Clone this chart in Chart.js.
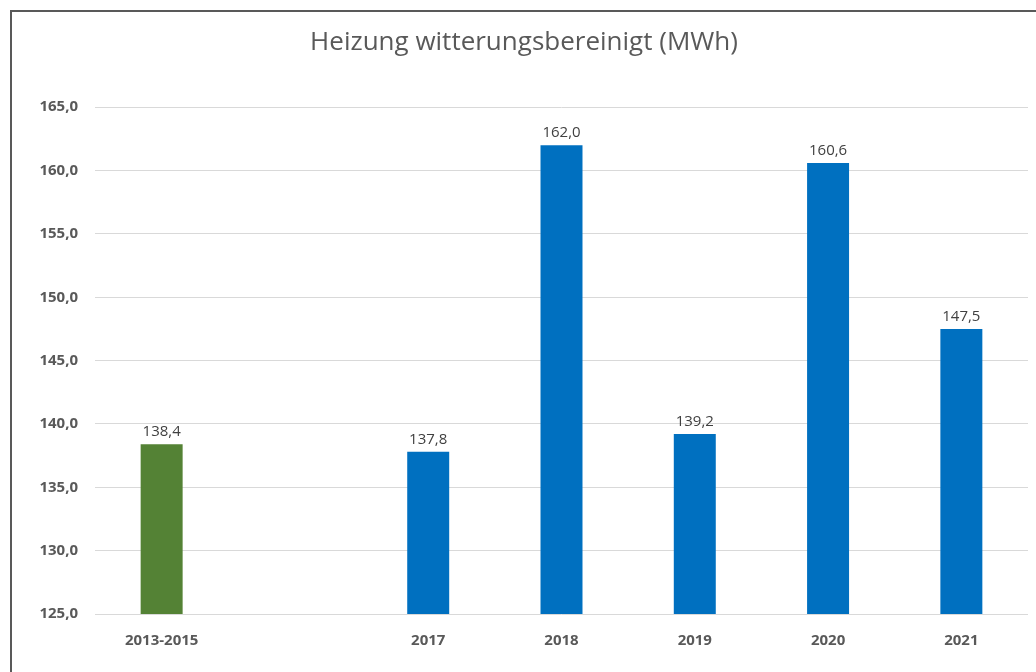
<html>
    <head>
        <meta charset="utf-8">
        <title>Heizung witterungsbereinigt</title>
        <style>
            body { margin: 0; background: #fff; overflow: hidden; }
            #wrap { position: relative; width: 1036px; height: 672px; overflow: hidden; }
            #frame { position: absolute; left: 10px; top: 10px; width: 1100px; height: 800px; border: 2px solid #595959; }
            #chart { position: absolute; left: 0; top: 0; }
        </style>
    </head>
    <body>
        <div id="wrap">
            <div id="frame"></div>
            <canvas id="chart" width="1036" height="672"></canvas>
        </div>
        <script src="https://cdn.jsdelivr.net/npm/chart.js"></script>
        <script type="text/javascript">
            // Werte aus dem Diagramm (2016 fehlt -> leere Kategorie)
            var categories = ["2013-2015", "", "2017", "2018", "2019", "2020", "2021"];
            var values = [138.4, null, 137.8, 162.0, 139.2, 160.6, 147.5];
            var barColors = ["#548235", "#0070C0", "#0070C0", "#0070C0", "#0070C0", "#0070C0", "#0070C0"];
            var yTicks = [125, 130, 135, 140, 145, 150, 155, 160, 165];

            function fmt(v) {
                return v.toFixed(1).replace(".", ",");
            }

            var valueLabels = {
                id: "valueLabels",
                afterDatasetsDraw: function (chart) {
                    var ctx = chart.ctx;
                    var meta = chart.getDatasetMeta(0);
                    ctx.save();
                    ctx.font = "15px 'Open Sans'";
                    ctx.fillStyle = "#404040";
                    ctx.textAlign = "center";
                    ctx.textBaseline = "bottom";
                    meta.data.forEach(function (bar, i) {
                        var v = values[i];
                        if (v === null) return;
                        ctx.fillText(fmt(v), bar.x, bar.y - 5);
                    });
                    ctx.restore();
                }
            };

            var ctx = document.getElementById("chart");
            var chart = new Chart(ctx, {
                type: "bar",
                data: {
                    labels: categories,
                    datasets: [{
                        data: values,
                        backgroundColor: barColors,
                        categoryPercentage: 1,
                        barPercentage: 0.315
                    }]
                },
                options: {
                    responsive: false,
                    animation: false,
                    layout: {
                        padding: { left: 20, right: 8, top: 0, bottom: 0 }
                    },
                    plugins: {
                        legend: { display: false },
                        tooltip: { enabled: false },
                        title: {
                            display: true,
                            text: "Heizung witterungsbereinigt (MWh)",
                            color: "#595959",
                            font: { family: "'Open Sans'", size: 26, weight: "normal" },
                            padding: { top: 27, bottom: 49 }
                        }
                    },
                    scales: {
                        x: {
                            grid: { display: false },
                            border: { display: false },
                            ticks: {
                                color: "#595959",
                                padding: 10,
                                font: { family: "'Open Sans'", size: 15, weight: "bold" }
                            },
                            afterFit: function (s) { s.height = 58; }
                        },
                        y: {
                            min: 125,
                            max: 165,
                            afterBuildTicks: function (s) {
                                s.ticks = yTicks.map(function (v) { return { value: v }; });
                            },
                            grid: { color: "#d9d9d9", drawTicks: false },
                            border: { display: false },
                            ticks: {
                                color: "#595959",
                                padding: 17,
                                font: { family: "'Open Sans'", size: 15, weight: "bold" },
                                callback: function (v) { return fmt(v); }
                            },
                            afterFit: function (s) { s.width = 75; }
                        }
                    }
                },
                plugins: [valueLabels]
            });
        </script>
    </body>
</html>
